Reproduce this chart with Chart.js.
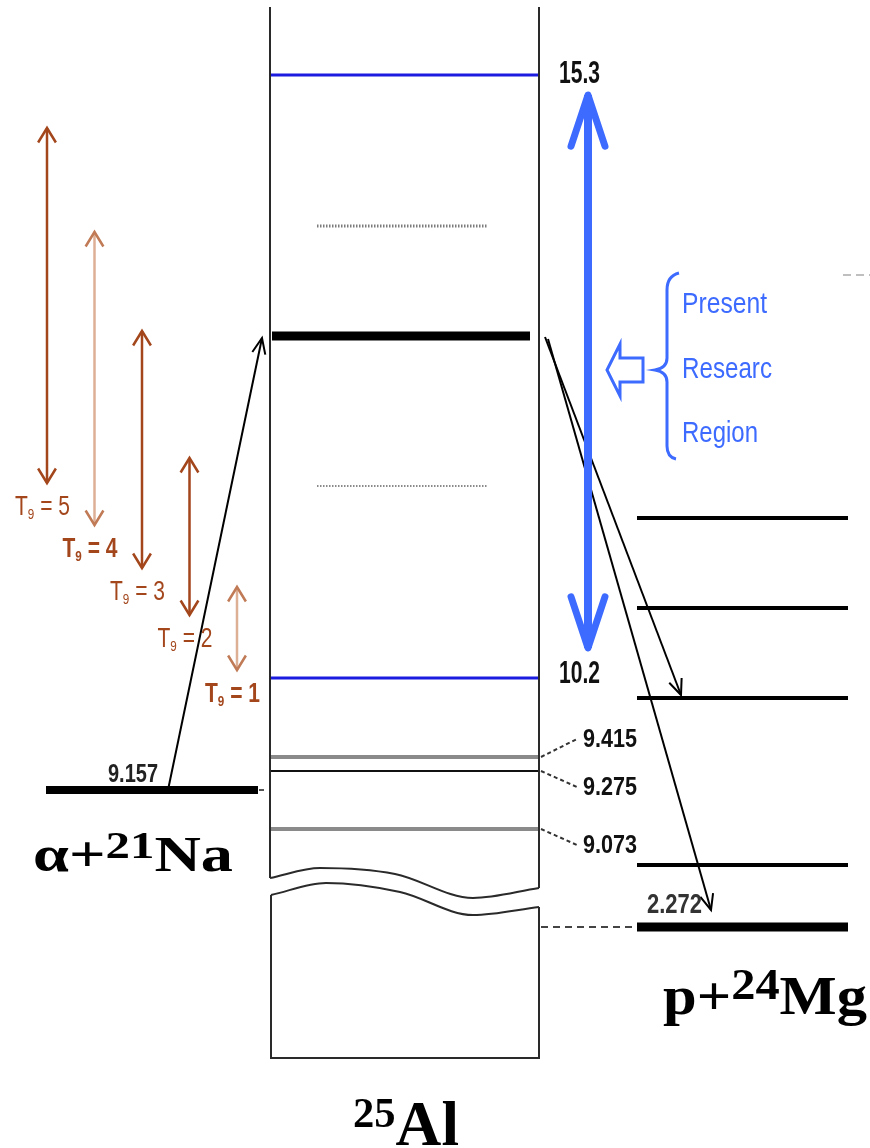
<!DOCTYPE html>
<html>
<head>
<meta charset="utf-8">
<script src="https://cdn.jsdelivr.net/npm/chart.js@4.4.1/dist/chart.umd.min.js"></script>
<style>
  html, body { margin: 0; padding: 0; background: #fff; }
  #wrap { position: relative; width: 870px; height: 1148px; }
</style>
</head>
<body>
<div id="wrap"><canvas id="level_scheme"></canvas></div>
<script>
// 25Al level scheme, schematic diagram units (y runs down the page)
const alLevelNames = ['15.3', '', '', '', '10.2', '9.415', '9.275', '9.073'];
const alLevelY = [75, 226, 336, 486, 678, 757, 771, 829];

// alpha + 21Na threshold
const naLevelNames = ['9.157'];
const naLevelY = [790];

// p + 24Mg levels
const mgLevelNames = ['', '', '', '', '2.272'];
const mgLevelY = [518, 608, 698, 865, 927];

// T9 energy windows
const tempValues = [5, 4, 3, 2, 1];
const tempTop = [128, 232, 331, 458, 587];
const tempBottom = [483, 525, 568, 615, 670];

// present research region (15.3 down to 10.2)
const regionTop = [95];
const regionBottom = [648];

/* ---------- styles / layout ---------- */
const BLUE_LEVEL = '#1c1ce0';
const BLUE = '#3d6bff';
const BROWN = '#a3461c';
const BROWN_LIGHT = '#ddb096';
const BOX = '#2a2a2a';

const alStyle = [
  { c: BLUE_LEVEL, w: 3, x0: 271, x1: 538 },
  { c: '#7c7c7c', w: 3, x0: 317, x1: 488, dash: [1.5, 1.5] },
  { c: '#000', w: 9, x0: 272, x1: 530 },
  { c: '#8a8a8a', w: 2, x0: 317, x1: 488, dash: [1.5, 1.5] },
  { c: BLUE_LEVEL, w: 3, x0: 271, x1: 538 },
  { c: '#8a8a8a', w: 4, x0: 271, x1: 538 },
  { c: '#111', w: 2, x0: 271, x1: 538 },
  { c: '#8a8a8a', w: 4, x0: 271, x1: 538 }
];
const alLabelPos = { 0: [559, 83, 41, 31], 4: [559, 683, 41, 31], 5: [583, 747, 54, 26], 6: [583, 795, 54, 26], 7: [583, 853, 54, 26] };
const mgWidth = [4, 4, 4, 4, 9];

function line(points, color, width, extra) {
  return Object.assign({
    data: points.map(p => ({ x: p[0], y: p[1] })),
    showLine: true,
    borderColor: color,
    backgroundColor: color,
    borderWidth: width,
    pointRadius: 0,
    pointHoverRadius: 0,
    fill: false,
    tension: 0,
    clip: false
  }, extra || {});
}

const datasets = [];

// box of 25Al with the axis break
datasets.push(line([[270, 7], [270, 878]], BOX, 2));
datasets.push(line([[539, 7], [539, 888]], BOX, 2));
datasets.push(line([[270, 878], [320, 868], [395, 874], [473, 898], [539, 888]], BOX, 2, { cubicInterpolationMode: 'monotone' }));
datasets.push(line([[271, 895], [326, 883], [400, 892], [473, 915], [539, 907]], BOX, 2, { cubicInterpolationMode: 'monotone' }));
datasets.push(line([[271, 895], [271, 1058], [539, 1058], [539, 907]], BOX, 2));

// 25Al levels
alLevelY.forEach((y, i) => {
  const s = alStyle[i];
  datasets.push(line([[s.x0, y], [s.x1, y]], s.c, s.w, s.dash ? { borderDash: s.dash } : {}));
});
// dashed connectors to the low-lying labels
[5, 6, 7].forEach(i => {
  const lp = alLabelPos[i];
  datasets.push(line([[541, alLevelY[i]], [577, lp[1] - 8]], '#333', 2, { borderDash: [4, 3] }));
});

// alpha + 21Na threshold
naLevelY.forEach(y => {
  datasets.push(line([[46, y], [258, y]], '#000', 8));
  datasets.push(line([[259, y], [264, y]], '#555', 2));
});

// p + 24Mg levels
mgLevelY.forEach((y, i) => {
  datasets.push(line([[637, y], [848, y]], '#000', mgWidth[i]));
});
datasets.push(line([[541, mgLevelY[4]], [637, mgLevelY[4]]], '#444', 2, { borderDash: [7, 5] }));

// T9 windows
tempValues.forEach((t, i) => {
  const x = 47 + i * 47.5;
  const light = (t === 4 || t === 1);
  datasets.push(line([[x, tempTop[i]], [x, tempBottom[i]]], light ? BROWN_LIGHT : BROWN, 2.5,
    { heads: { start: true, end: true, len: 17, ang: 0.55, color: light ? '#c07a55' : BROWN, width: 2.5 } }));
});

// research region double arrow
datasets.push(line([[588, regionTop[0]], [588, regionBottom[0]]], BLUE, 8,
  { heads: { start: true, end: true, len: 54, ang: 0.32, color: BLUE, width: 7, cap: 'round' } }));

// reaction arrows
datasets.push(line([[168, naLevelY[0]], [262, alLevelY[2] + 2]], '#000', 2, { heads: { end: true, len: 17, ang: 0.4 } }));
datasets.push(line([[545, alLevelY[2] + 1], [681, mgLevelY[2] - 3]], '#000', 2, { heads: { end: true, len: 17, ang: 0.4 } }));
datasets.push(line([[548, alLevelY[2] + 3], [711, mgLevelY[4] - 17]], '#000', 2, { heads: { end: true, len: 17, ang: 0.4 } }));

/* ---------- plugins ---------- */
function chevron(ctx, from, tip, len, ang) {
  const a = Math.atan2(tip.y - from.y, tip.x - from.x);
  ctx.beginPath();
  ctx.moveTo(tip.x - len * Math.cos(a - ang), tip.y - len * Math.sin(a - ang));
  ctx.lineTo(tip.x, tip.y);
  ctx.lineTo(tip.x - len * Math.cos(a + ang), tip.y - len * Math.sin(a + ang));
  ctx.stroke();
}

const arrowHeads = {
  id: 'arrowHeads',
  afterDatasetsDraw(chart) {
    const ctx = chart.ctx;
    chart.data.datasets.forEach((ds, i) => {
      const h = ds.heads;
      if (!h) return;
      const pts = chart.getDatasetMeta(i).data;
      ctx.save();
      ctx.strokeStyle = h.color || ds.borderColor;
      ctx.lineWidth = h.width || ds.borderWidth;
      ctx.lineCap = h.cap || 'butt';
      ctx.lineJoin = h.cap === 'round' ? 'round' : 'miter';
      if (h.end) chevron(ctx, pts[pts.length - 2], pts[pts.length - 1], h.len, h.ang);
      if (h.start) chevron(ctx, pts[1], pts[0], h.len, h.ang);
      ctx.restore();
    });
  }
};

// rich text squeezed/stretched to a given width
function richText(ctx, parts, x, base, width, color) {
  let total = 0;
  parts.forEach(p => { ctx.font = p.font; p.w = ctx.measureText(p.t).width; total += p.w; });
  ctx.save();
  ctx.translate(x, base);
  ctx.scale(width / total, 1);
  ctx.fillStyle = color;
  ctx.textBaseline = 'alphabetic';
  let cx = 0;
  parts.forEach(p => {
    ctx.font = p.font;
    ctx.fillText(p.t, cx, -(p.rise || 0));
    cx += p.w;
  });
  ctx.restore();
}

const labels = {
  id: 'labels',
  afterDraw(chart) {
    const ctx = chart.ctx;
    const X = v => chart.scales.x.getPixelForValue(v);
    const Y = v => chart.scales.y.getPixelForValue(v);
    const num = s => 'bold ' + s + 'px "Liberation Sans", Arial, sans-serif';

    // energy labels
    alLevelNames.forEach((name, i) => {
      if (!name) return;
      const lp = alLabelPos[i];
      richText(ctx, [{ t: name, font: num(lp[3]) }], X(lp[0]), Y(lp[1]), lp[2], '#111');
    });
    richText(ctx, [{ t: naLevelNames[0], font: num(26) }], X(108), Y(naLevelY[0] - 8), 50, '#222');
    richText(ctx, [{ t: mgLevelNames[4], font: num(28) }], X(647), Y(mgLevelY[4] - 14), 55, '#333');

    // T9 labels
    tempValues.forEach((t, i) => {
      const bold = (t === 4 || t === 1) ? 'bold ' : '';
      const f = bold + '27px "Liberation Sans", Arial, sans-serif';
      const fs = bold + '15px "Liberation Sans", Arial, sans-serif';
      const x = 47 + i * 47.5;
      richText(ctx, [{ t: 'T', font: f }, { t: '9', font: fs, rise: -4 }, { t: ' = ' + t, font: f }],
        X(x - 32), Y(tempBottom[i] + 32), 55, BROWN);
    });

    // nucleus labels
    const serif = s => 'bold ' + s + 'px "Liberation Serif", "Times New Roman", serif';
    richText(ctx, [{ t: 'α+', font: serif(50) }, { t: '21', font: serif(38), rise: 13 }, { t: 'Na', font: serif(50) }],
      X(33), Y(871), 200, '#000');
    richText(ctx, [{ t: 'p+', font: serif(55) }, { t: '24', font: serif(44), rise: 15 }, { t: 'Mg', font: serif(55) }],
      X(663), Y(1014), 204, '#000');
    richText(ctx, [{ t: '25', font: serif(43), rise: 18 }, { t: 'Al', font: serif(64) }],
      X(353), Y(1145), 106, '#000');

    // research region note
    ctx.save();
    ctx.strokeStyle = BLUE;
    ctx.lineWidth = 3;
    ctx.lineJoin = 'miter';
    // hollow arrow pointing left
    ctx.beginPath();
    ctx.moveTo(X(607), Y(370));
    ctx.lineTo(X(620), Y(344));
    ctx.lineTo(X(620), Y(358));
    ctx.lineTo(X(643), Y(358));
    ctx.lineTo(X(643), Y(382));
    ctx.lineTo(X(620), Y(382));
    ctx.lineTo(X(620), Y(396));
    ctx.closePath();
    ctx.stroke();
    // brace
    ctx.beginPath();
    ctx.moveTo(X(679), Y(273));
    ctx.quadraticCurveTo(X(667), Y(276), X(667), Y(290));
    ctx.lineTo(X(667), Y(358));
    ctx.quadraticCurveTo(X(667), Y(368), X(655), Y(370));
    ctx.quadraticCurveTo(X(667), Y(372), X(667), Y(382));
    ctx.lineTo(X(667), Y(446));
    ctx.quadraticCurveTo(X(667), Y(457), X(676), Y(459));
    ctx.stroke();
    ctx.restore();

    const sans = '30px "Liberation Sans", Arial, sans-serif';
    richText(ctx, [{ t: 'Present', font: sans }], X(682), Y(313), 85, BLUE);
    richText(ctx, [{ t: 'Researc', font: sans }], X(682), Y(378), 90, BLUE);
    richText(ctx, [{ t: 'Region', font: sans }], X(682), Y(442), 76, BLUE);

    // stray dashes at right edge
    ctx.save();
    ctx.strokeStyle = '#aaa';
    ctx.lineWidth = 1.5;
    ctx.setLineDash([8, 5]);
    ctx.beginPath();
    ctx.moveTo(X(843), Y(275));
    ctx.lineTo(X(870), Y(275));
    ctx.stroke();
    ctx.restore();
  }
};

new Chart(document.getElementById('level_scheme'), {
  type: 'scatter',
  data: { datasets: datasets },
  options: {
    responsive: true,
    maintainAspectRatio: false,
    animation: false,
    events: [],
    layout: { padding: 0 },
    plugins: {
      legend: { display: false },
      tooltip: { enabled: false }
    },
    scales: {
      x: { type: 'linear', min: 0, max: 870, display: false },
      y: { type: 'linear', min: 0, max: 1148, reverse: true, display: false }
    }
  },
  plugins: [arrowHeads, labels]
});
</script>
</body>
</html>
